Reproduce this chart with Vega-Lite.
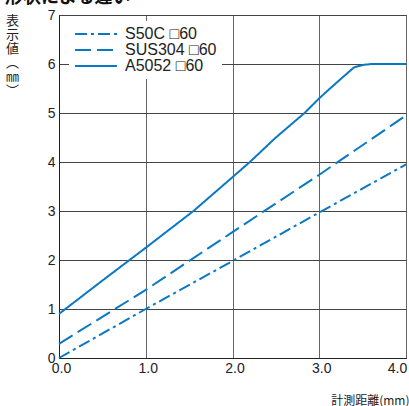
{
  "$schema": "https://vega.github.io/schema/vega-lite/v6.json",
  "autosize": "none",
  "padding": {"left": 59, "top": 15, "right": 3, "bottom": 48},
  "width": 347,
  "height": 343,
  "background": "white",
  "title": {
    "text": "形状による違い",
    "anchor": "start",
    "frame": "group",
    "font": "Noto Sans CJK JP",
    "fontSize": 18,
    "fontWeight": "bold",
    "color": "#111",
    "baseline": "bottom",
    "orient": "top",
    "offset": -17,
    "dx": -54
  },
  "config": {
    "view": {"stroke": "#222", "strokeWidth": 1},
    "font": "Liberation Sans"
  },
  "data": {
    "values": [
      {"series": "S50C □60", "x": 0.0, "y": 0.0},
      {"series": "S50C □60", "x": 1.0, "y": 1.0},
      {"series": "S50C □60", "x": 2.0, "y": 1.98},
      {"series": "S50C □60", "x": 3.0, "y": 2.97},
      {"series": "S50C □60", "x": 4.0, "y": 3.95},
      {"series": "SUS304 □60", "x": 0.0, "y": 0.29},
      {"series": "SUS304 □60", "x": 1.0, "y": 1.39},
      {"series": "SUS304 □60", "x": 2.0, "y": 2.57},
      {"series": "SUS304 □60", "x": 3.0, "y": 3.74},
      {"series": "SUS304 □60", "x": 4.0, "y": 4.95},
      {"series": "A5052 □60", "x": 0.0, "y": 0.9},
      {"series": "A5052 □60", "x": 0.5, "y": 1.58},
      {"series": "A5052 □60", "x": 1.0, "y": 2.25},
      {"series": "A5052 □60", "x": 1.55, "y": 3.0},
      {"series": "A5052 □60", "x": 2.0, "y": 3.69},
      {"series": "A5052 □60", "x": 2.2, "y": 4.0},
      {"series": "A5052 □60", "x": 2.5, "y": 4.5},
      {"series": "A5052 □60", "x": 2.83, "y": 5.0},
      {"series": "A5052 □60", "x": 3.0, "y": 5.3},
      {"series": "A5052 □60", "x": 3.2, "y": 5.62},
      {"series": "A5052 □60", "x": 3.4, "y": 5.93},
      {"series": "A5052 □60", "x": 3.5, "y": 5.98},
      {"series": "A5052 □60", "x": 3.6, "y": 6.0},
      {"series": "A5052 □60", "x": 4.0, "y": 6.0}
    ]
  },
  "mark": {"type": "line", "strokeWidth": 2, "color": "#0a78c3"},
  "encoding": {
    "x": {
      "field": "x",
      "type": "quantitative",
      "scale": {"domain": [0, 4], "nice": false, "zero": true},
      "axis": {
        "values": [0, 1, 2, 3, 4],
        "format": ".1f",
        "title": "計測距離(mm)",
        "titleFont": "Noto Sans CJK JP",
        "titleFontSize": 12,
        "titleFontWeight": "normal",
        "titleColor": "#222",
        "titleAnchor": "end",
        "titleAlign": "right",
        "titleBaseline": "alphabetic",
        "titleX": 350,
        "titleY": 46,
        "labelFontSize": 14,
        "labelColor": "#222",
        "labelPadding": 3,
        "labelFlush": false,
        "labelOffset": {"expr": "datum.value == 4 ? -9 : 2"},
        "ticks": false,
        "domainColor": "#222",
        "gridColor": "#666",
        "gridOpacity": 1,
        "gridWidth": 1
      }
    },
    "y": {
      "field": "y",
      "type": "quantitative",
      "scale": {"domain": [0, 7], "nice": false},
      "axis": {
        "values": [0, 1, 2, 3, 4, 5, 6, 7],
        "title": ["表", "示", "値", "︵", "㎜", "︶"],
        "titleFont": "Noto Sans CJK JP",
        "titleFontSize": 13,
        "titleFontWeight": "normal",
        "titleColor": "#222",
        "titleAngle": 0,
        "titleAlign": "center",
        "titleBaseline": "top",
        "titleLineHeight": 14,
        "titleX": -47,
        "titleY": -1,
        "labelFontSize": 14,
        "labelColor": "#222",
        "labelPadding": 4,
        "ticks": false,
        "domainColor": "#222",
        "gridColor": "#444",
        "gridOpacity": 1,
        "gridWidth": 1
      }
    },
    "strokeDash": {
      "field": "series",
      "type": "nominal",
      "sort": ["S50C □60", "SUS304 □60", "A5052 □60"],
      "scale": {
        "domain": ["S50C □60", "SUS304 □60", "A5052 □60"],
        "range": [[12, 4, 3, 4], [16, 6], [1, 0]]
      },
      "legend": {
        "title": null,
        "orient": "none",
        "legendX": 10,
        "legendY": 6,
        "fillColor": "white",
        "padding": 5,
        "symbolType": "M-1,0H5",
        "symbolSize": 196,
        "symbolStrokeWidth": 2,
        "symbolStrokeColor": "#0a78c3",
        "labelFontSize": 16,
        "labelColor": "#222",
        "labelOffset": 35,
        "rowPadding": 0,
        "labelFont": "Liberation Sans Narrow, Liberation Sans"
      }
    }
  }
}
